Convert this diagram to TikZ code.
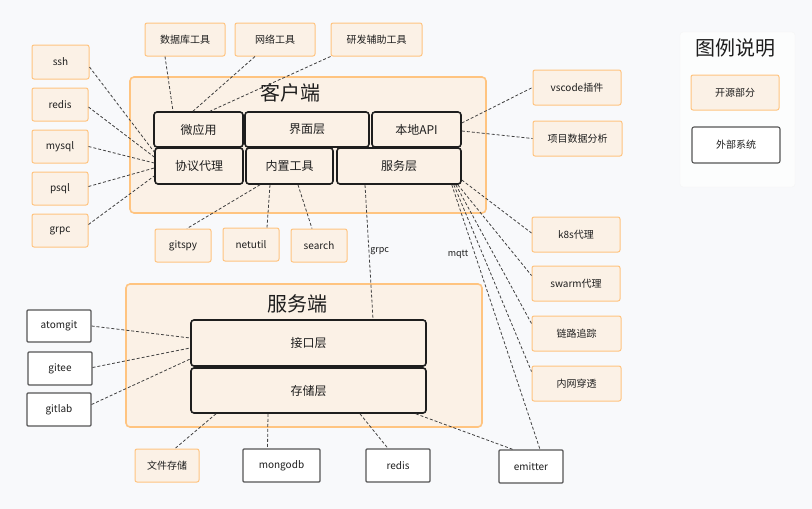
\documentclass[tikz,border=0pt]{standalone}
\usepackage{fontspec}
\setmainfont{Noto Sans CJK SC}
\usepackage{xcolor}
\usetikzlibrary{arrows.meta}
\definecolor{bg}{HTML}{F8F9FB}
\definecolor{oline}{HTML}{FFC480}
\definecolor{ofill}{HTML}{FBF1E6}
\definecolor{ink}{HTML}{1E1E1E}
\begin{document}
\begin{tikzpicture}[x=1pt,y=-1pt,
sz/.style 2 args={minimum width=#1pt,minimum height=#2pt},
grp/.style={draw=oline,fill=ofill,line width=1.6pt,rounded corners=4pt,inner sep=0pt},
oss/.style={draw=oline,fill=ofill,line width=1pt,rounded corners=2pt,inner sep=0pt,text=ink,font=\fontsize{10}{12}\selectfont},
ext/.style={draw=ink!75,fill=white,line width=1.1pt,rounded corners=1pt,inner sep=0pt,text=ink,font=\fontsize{10}{12}\selectfont},
layer/.style={draw=ink,fill=ofill,line width=1.6pt,rounded corners=3pt,inner sep=0pt,text=ink,font=\fontsize{12}{14}\selectfont},
conn/.style={draw=ink!85,line width=0.8pt,dash pattern=on 3pt off 2pt},
ttl/.style={text=ink,font=\fontsize{20}{24}\selectfont}]
\useasboundingbox[fill=bg](0,0)rectangle(812,509);
% legend
\node[draw=black!4,fill=white!60!bg,rounded corners=3pt,sz={115}{155}](lgd)at(737.5,109.5){};
\node[ttl](lgdt)at(735,48){图例说明};
\node[oss,sz={88}{35}](kyb)at(735,92.5){开源部分};
\node[ext,sz={88}{36},rounded corners=2pt](wbxt)at(736,145){外部系统};
% client
\node[grp,sz={356}{136}](kh)at(308,145){};
\node[ttl](kht)at(290,93){客户端};
\node[layer,sz={89}{35}](wyy)at(198.5,129.5){微应用};
\node[layer,sz={124}{35}](jmc)at(307,129.5){界面层};
\node[layer,sz={89}{35}](bdapi)at(416.5,129.5){本地API};
\node[layer,sz={88}{36}](xydl)at(199,166){协议代理};
\node[layer,sz={87}{36}](nzgj)at(289.5,166){内置工具};
\node[layer,sz={124}{36}](fwc)at(399,166){服务层};
\node[oss,sz={80}{33}](sjkgj)at(185,39.5){数据库工具};
\node[oss,sz={80}{33}](wlgj)at(275,39.5){网络工具};
\node[oss,sz={91}{33}](yfgj)at(376.5,39.5){研发辅助工具};
\node[oss,sz={57}{34}](ssh)at(60.5,62){ssh};
\node[oss,sz={56}{33}](redisc)at(60,104.5){redis};
\node[oss,sz={56}{33}](mysql)at(60,146.5){mysql};
\node[oss,sz={56}{33}](psql)at(60,188.5){psql};
\node[oss,sz={56}{33}](grpcc)at(60,230.5){grpc};
\node[oss,sz={56}{33}](gitspy)at(183,245.5){gitspy};
\node[oss,sz={56}{33}](netutil)at(251,244.5){netutil};
\node[oss,sz={56}{33}](search)at(319,245.5){search};
\node[oss,sz={88}{35}](vscode)at(577,87.5){vscode插件};
\node[oss,sz={89}{35}](xmsj)at(577.5,138.5){项目数据分析};
\node[oss,sz={88}{35}](k8s)at(576,234.5){k8s代理};
\node[oss,sz={88}{35}](swarm)at(576,283.5){swarm代理};
\node[oss,sz={89}{35}](lulz)at(576.5,333.5){链路追踪};
\node[oss,sz={89}{35}](nwct)at(576.5,383.5){内网穿透};
% server
\node[grp,sz={356}{143}](fw)at(304,355.5){};
\node[ttl](fwt)at(297,304){服务端};
\node[layer,sz={235}{46}](jkc)at(308.5,343){接口层};
\node[layer,sz={235}{45}](ccc)at(308.5,390.5){存储层};
\node[ext,sz={64}{32}](atomgit)at(59,326){atomgit};
\node[ext,sz={64}{33}](gitee)at(60,368.5){gitee};
\node[ext,sz={64}{33}](gitlab)at(59,409.5){gitlab};
\node[oss,sz={64}{33}](wjcc)at(167,465.5){文件存储};
\node[ext,sz={77}{33}](mongodb)at(281.5,465.5){mongodb};
\node[ext,sz={64}{33}](rediss)at(398,465.5){redis};
\node[ext,sz={64}{33}](emitter)at(531,466.5){emitter};
% links
\draw[conn]([xshift=-20pt]sjkgj.south)--([xshift=-25.5pt]wyy.north);
\draw[conn]([xshift=-20pt]wlgj.south)--([xshift=-5.5pt]wyy.north);
\draw[conn](yfgj.south west)--([xshift=11.5pt]wyy.north);
\draw[conn]([yshift=-5pt]ssh.east)--([yshift=14pt]xydl.west);
\draw[conn]([yshift=-2.5pt]redisc.east)--([yshift=9pt]xydl.west);
\draw[conn](mysql.east)--([yshift=3pt]xydl.west);
\draw[conn]([yshift=2pt]psql.east)--([yshift=-2pt]xydl.west);
\draw[conn]([yshift=6pt]grpcc.east)--([yshift=-10pt]xydl.west);
\draw[conn]([xshift=-29.5pt]nzgj.south)--([xshift=4pt]gitspy.north);
\draw[conn]([xshift=-19.5pt]nzgj.south)--([xshift=16pt]netutil.north);
\draw[conn]([xshift=8.5pt]nzgj.south)--([xshift=-7pt]search.north);
\draw[conn]([xshift=-34pt]fwc.south)--node[pos=0.49,right,inner sep=1pt,text=ink,font=\fontsize{9}{10}\selectfont]{grpc}([xshift=64.5pt]jkc.north);
\draw[conn]([yshift=6.5pt]bdapi.east)--(vscode.west);
\draw[conn]([yshift=-1.5pt]bdapi.east)--(xmsj.west);
\draw[conn]([yshift=-14pt]fwc.east)--([yshift=1.5pt]k8s.west);
\draw[conn]([xshift=-4pt]fwc.south east)--([yshift=8pt]swarm.west);
\draw[conn]([xshift=-6pt]fwc.south east)--([yshift=10pt]lulz.west);
\draw[conn]([xshift=-8pt]fwc.south east)--([yshift=12pt]nwct.west);
\draw[conn]([xshift=-10pt]fwc.south east)--([xshift=9pt]emitter.north);
\node[text=ink,font=\fontsize{9}{10}\selectfont](mqtt)at(458,254){mqtt};
\draw[conn](atomgit.east)--([yshift=5pt]jkc.west);
\draw[conn]([yshift=1pt]gitee.east)--([yshift=-5pt]jkc.west);
\draw[conn]([yshift=5pt]gitlab.east)--([yshift=-16pt]jkc.west);
\draw[conn]([xshift=-92.5pt]ccc.south)--([xshift=8pt]wjcc.north);
\draw[conn]([xshift=-40.5pt]ccc.south)--([xshift=-14pt]mongodb.north);
\draw[conn]([xshift=51.5pt]ccc.south)--([xshift=-10pt]rediss.north);
\draw[conn]([xshift=-11pt]ccc.south east)--([xshift=-18pt]emitter.north);
\end{tikzpicture}
\end{document}
